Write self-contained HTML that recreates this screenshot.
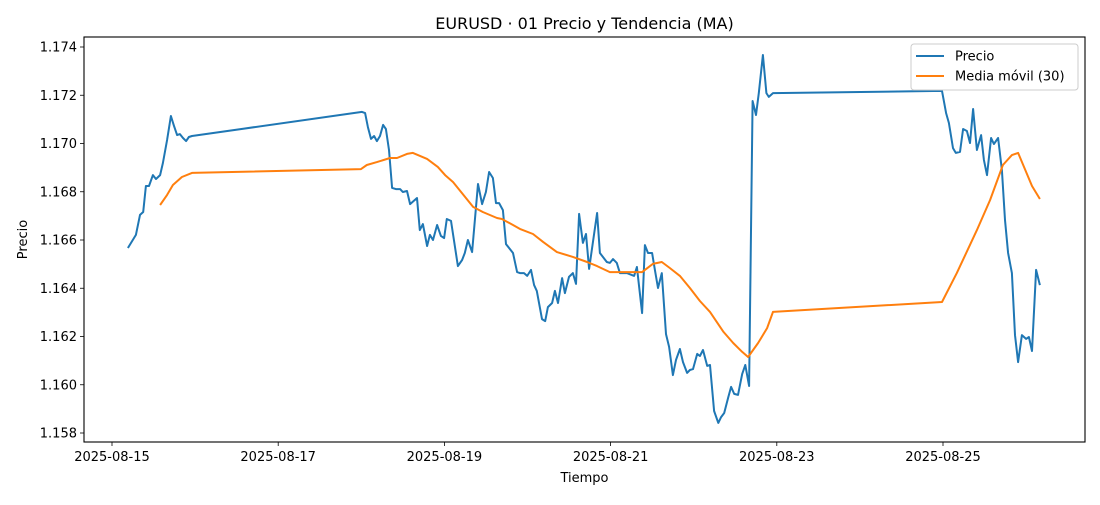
<!DOCTYPE html>
<html><head><meta charset="utf-8"><style>
body{margin:0;background:#fff;width:1100px;height:500px;overflow:hidden}
svg text{font-family:"DejaVu Sans","Liberation Sans",sans-serif;fill:#000}
</style></head><body>
<svg id="chart" width="1100" height="500" xmlns="http://www.w3.org/2000/svg"></svg>
<script>
// hours since 2025-08-15 00:00
const priceHours=[4.6,6.9,8.1,9.0,9.8,10.7,11.8,12.7,13.9,14.7,15.9,17.0,17.9,18.8,19.6,20.5,21.4,22.2,23.1,72.2,73.1,73.9,74.8,75.7,76.5,77.4,78.3,79.1,80.0,80.9,82.0,83.2,84.0,85.2,86.1,88.1,88.9,89.8,91.0,91.8,92.7,93.9,95.0,95.9,96.7,97.9,99.9,101.1,101.9,102.8,104.0,105.7,106.9,108.0,108.9,110.0,110.9,111.8,112.9,113.8,115.8,117.0,117.8,119.0,119.9,121.0,121.9,122.7,124.2,125.1,125.9,127.1,127.9,128.8,130.0,130.8,132.0,133.1,134.0,134.9,136.0,136.9,137.8,140.1,140.9,142.9,143.8,144.7,145.8,146.7,148.7,150.8,151.6,153.1,153.9,154.8,156.0,156.8,157.7,158.8,160.0,160.9,162.0,162.9,164.0,164.9,166.1,166.9,167.8,169.0,169.8,170.7,171.9,172.7,173.9,175.1,175.9,176.8,178.0,178.8,179.7,180.8,182.0,182.9,184.0,185.0,186.0,186.8,188.0,189.0,189.7,190.9,239.7,240.9,241.7,242.9,243.7,244.9,245.8,246.9,247.8,248.7,249.8,251.0,251.8,252.7,253.9,254.7,255.9,257.0,257.9,258.8,259.9,260.8,261.7,262.8,264.0,264.8,265.7,266.9,268.0];
const priceValues=[1.16567,1.16621,1.16704,1.16716,1.16824,1.16824,1.16869,1.16853,1.16869,1.16919,1.17015,1.17114,1.17073,1.17035,1.17039,1.17023,1.17010,1.17027,1.17031,1.17131,1.17126,1.17068,1.17019,1.17031,1.17010,1.17031,1.17077,1.17060,1.16973,1.16816,1.16811,1.16811,1.16799,1.16803,1.16749,1.16774,1.16641,1.16666,1.16575,1.16621,1.16600,1.16662,1.16617,1.16608,1.16687,1.16679,1.16492,1.16517,1.16546,1.16600,1.16550,1.16832,1.16749,1.16799,1.16882,1.16857,1.16753,1.16753,1.16724,1.16583,1.16546,1.16467,1.16463,1.16463,1.16451,1.16476,1.16413,1.16389,1.16272,1.16264,1.16322,1.16339,1.16389,1.16339,1.16442,1.16380,1.16447,1.16463,1.16418,1.16708,1.16588,1.16625,1.16480,1.16712,1.16546,1.16509,1.16505,1.16521,1.16505,1.16463,1.16463,1.16451,1.16488,1.16297,1.16579,1.16546,1.16546,1.16476,1.16401,1.16463,1.16210,1.16157,1.16040,1.16103,1.16148,1.16094,1.16049,1.16061,1.16065,1.16128,1.16119,1.16144,1.16078,1.16082,1.15891,1.15842,1.15866,1.15883,1.15949,1.15991,1.15962,1.15958,1.16045,1.16082,1.15995,1.17176,1.17118,1.17209,1.17367,1.17209,1.17193,1.17209,1.17218,1.17126,1.17085,1.16981,1.16961,1.16965,1.17060,1.17052,1.17002,1.17143,1.16973,1.17035,1.16932,1.16869,1.17023,1.16998,1.17023,1.16890,1.16683,1.16546,1.16463,1.16206,1.16094,1.16206,1.16190,1.16198,1.16140,1.16476,1.16413];
const maHours=[13.9,15.9,17.6,20.2,23.1,71.9,73.6,76.5,80.3,82.3,85.2,86.9,91.0,94.1,96.2,98.5,104.3,107.1,111.2,112.6,115.8,117.8,121.6,124.5,128.5,133.1,137.2,140.1,143.8,147.6,153.1,156.2,158.8,161.1,164.0,166.9,169.8,172.7,176.6,179.4,182.0,183.7,186.6,189.2,190.9,239.7,244.0,249.8,253.6,257.3,259.9,261.7,265.7,268.0];
const maValues=[1.16745,1.16787,1.16828,1.16861,1.16878,1.16894,1.16911,1.16923,1.16940,1.16940,1.16957,1.16961,1.16936,1.16903,1.16869,1.16840,1.16737,1.16716,1.16691,1.16687,1.16662,1.16646,1.16625,1.16592,1.16550,1.16530,1.16509,1.16492,1.16467,1.16467,1.16467,1.16501,1.16509,1.16484,1.16451,1.16401,1.16347,1.16302,1.16219,1.16173,1.16136,1.16115,1.16173,1.16235,1.16302,1.16343,1.16463,1.16641,1.16766,1.16911,1.16952,1.16961,1.16824,1.16770];
const yTicks=[1.158,1.160,1.162,1.164,1.166,1.168,1.170,1.172,1.174];
const xTickHours=[0,48,96,144,192,240];
const xTickLabels=["2025-08-15","2025-08-17","2025-08-19","2025-08-21","2025-08-23","2025-08-25"];

const NS="http://www.w3.org/2000/svg";
const svg=document.getElementById('chart');
const L=84,R=1085,T=37,B=442;
const xs=h=>112+h*83.1/24;
const ys=v=>47+(1.174-v)*24125;
function mk(tag,attrs,parent){const e=document.createElementNS(NS,tag);for(const k in attrs)e.setAttribute(k,attrs[k]);(parent||svg).appendChild(e);return e;}

const title=mk('text',{x:(L+R)/2,y:29,'text-anchor':'middle','font-size':16});
title.textContent='EURUSD · 01 Precio y Tendencia (MA)';



yTicks.forEach(v=>{
  const y=ys(v);
  const t=mk('line',{x1:L-4,x2:L,y1:y,y2:y,stroke:'#000','stroke-width':0.8});
  
  
  const lb=mk('text',{x:L-7,y:y+4.5,'text-anchor':'end','font-size':13});
  lb.textContent=v.toFixed(3);
  
  
});
xTickHours.forEach((h,i)=>{
  const x=xs(h);
  const t=mk('line',{x1:x,x2:x,y1:B,y2:B+4,stroke:'#000','stroke-width':0.8});
  
  
  const lb=mk('text',{x:x,y:B+19,'text-anchor':'middle','font-size':13});
  lb.textContent=xTickLabels[i];
  
  
});
const xt=mk('text',{x:(L+R)/2,y:482,'text-anchor':'middle','font-size':13});
xt.textContent='Tiempo';


const yt=mk('text',{x:0,y:0,'text-anchor':'middle','font-size':13,transform:`translate(27,${(T+B)/2}) rotate(-90)`});
yt.textContent='Precio';



function line(hs,vs,color,name){
  const p=hs.map((h,i)=>(i?'L':'M')+xs(h).toFixed(1)+','+ys(vs[i]).toFixed(1)).join('');
  const e=mk('path',{d:p,fill:'none',stroke:color,'stroke-width':2,'stroke-linejoin':'round'});
  
  
}
line(priceHours,priceValues,'#1f77b4','price-line');
line(maHours,maValues,'#ff7f0e','moving-average-line');

const frame=mk('rect',{x:L,y:T,width:R-L,height:B-T,fill:'none',stroke:'#000','stroke-width':1.1});



const lg=mk('g',{});


mk('rect',{x:911,y:44,width:167,height:46,rx:3,fill:'#fff',stroke:'#ccc','stroke-width':1},lg);
[['Precio','#1f77b4'],['Media móvil (30)','#ff7f0e']].forEach((d,i)=>{
  const y=56+i*20;
  const ln=mk('line',{x1:916,x2:944,y1:y,y2:y,stroke:d[1],'stroke-width':2},lg);
  
  
  const tx=mk('text',{x:955,y:y+4.5,'font-size':13},lg);
  tx.textContent=d[0];
  
  
});
</script>
</body></html>
